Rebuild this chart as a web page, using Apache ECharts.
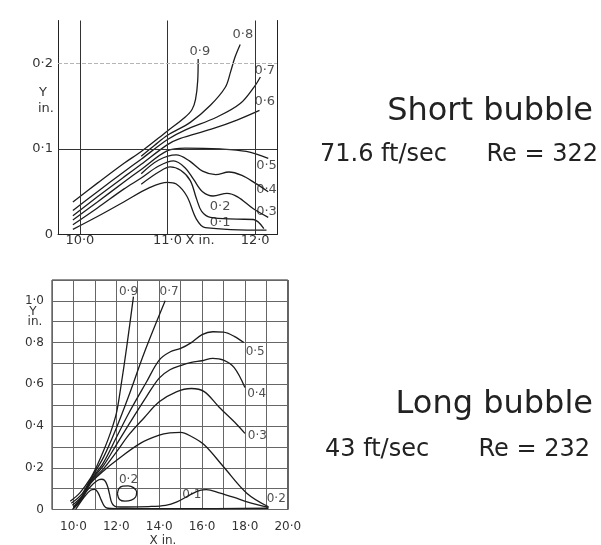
<!DOCTYPE html>
<html><head><meta charset="utf-8">
<script src="https://cdn.jsdelivr.net/npm/echarts@6/dist/echarts.min.js"></script>
<style>html,body{margin:0;padding:0;background:#fff}#c{width:601px;height:545px}</style>
</head><body><div id="c"></div><script>
// ---- Short bubble (71.6 ft/sec): contour lines, [X in., Y in.] ----
const short09 = [[9.92,0.038],[10.2,0.06],[10.5,0.083],[10.7,0.097],[11.0,0.121],[11.2,0.137],[11.28,0.146],[11.32,0.158],[11.345,0.18],[11.35,0.205]];
const short08 = [[10.7,0.0915],[10.85,0.104],[11.0,0.116],[11.26,0.131],[11.49,0.151],[11.66,0.172],[11.72,0.19],[11.77,0.207],[11.83,0.222]];
const short07 = [[9.92,0.028],[10.2,0.05],[10.5,0.073],[10.7,0.088],[11.0,0.111],[11.2,0.122],[11.56,0.137],[11.83,0.153],[12.0,0.174],[12.06,0.184]];
const short06 = [[9.92,0.022],[10.2,0.044],[10.5,0.067],[10.7,0.082],[11.0,0.105],[11.14,0.112],[11.5,0.123],[11.8,0.134],[12.05,0.145]];
const short05 = [[9.92,0.017],[10.2,0.038],[10.5,0.061],[10.7,0.076],[11.0,0.098],[11.2,0.101],[11.6,0.1],[11.9,0.097],[12.15,0.089]];
const short04 = [[10.7,0.071],[10.9,0.087],[11.1,0.093],[11.25,0.086],[11.4,0.074],[11.55,0.07],[11.7,0.073],[11.85,0.069],[12.0,0.06],[12.15,0.05]];
const short03 = [[9.92,0.0114],[10.2,0.031],[10.5,0.053],[10.7,0.066],[10.9,0.08],[11.07,0.086],[11.2,0.078],[11.3,0.064],[11.4,0.05],[11.52,0.045],[11.68,0.048],[11.8,0.044],[11.98,0.03],[12.15,0.02]];
const short02 = [[10.7,0.0588],[10.9,0.073],[11.03,0.079],[11.15,0.075],[11.26,0.063],[11.33,0.042],[11.39,0.027],[11.49,0.02],[11.79,0.018],[11.98,0.0175],[12.1,0.007]];
const short01 = [[9.92,0.006],[10.2,0.021],[10.5,0.038],[10.8,0.055],[11.0,0.061],[11.1,0.059],[11.22,0.045],[11.33,0.018],[11.43,0.008],[12.13,0.005]];
const shortLabelText = ['0·9','0·8','0·7','0·6','0·5','0·4','0·3','0·2','0·1'];
const shortLabelPos = [[11.37,0.214],[11.86,0.233],[12.11,0.192],[12.11,0.155],[12.13,0.081],[12.13,0.052],[12.13,0.027],[11.6,0.032],[11.6,0.014]];
const shortGridX = [10, 11, 12];
const shortGridY = [0.1];
const shortDashedY = [0.2];

// ---- Long bubble (43 ft/sec): contour lines, [X in., Y in.] ----
const long09 = [[9.85,0.04],[10.3,0.08],[10.8,0.15],[11.1,0.21],[11.4,0.28],[11.7,0.36],[12.0,0.46],[12.2,0.58],[12.5,0.79],[12.8,1.02]];
const long07 = [[9.9,0.03],[10.4,0.075],[10.8,0.145],[11.4,0.25],[12.0,0.39],[12.6,0.55],[13.3,0.75],[14.28,1.0]];
const long05 = [[9.95,0.02],[10.4,0.065],[10.8,0.14],[11.4,0.225],[12.0,0.345],[12.6,0.465],[13.4,0.61],[14.0,0.716],[14.5,0.755],[15.0,0.772],[15.5,0.8],[16.0,0.838],[16.5,0.852],[17.0,0.85],[17.5,0.83],[17.95,0.8]];
const long04 = [[10.0,0.012],[10.4,0.06],[10.8,0.135],[11.4,0.21],[12.0,0.31],[12.6,0.41],[13.4,0.54],[14.0,0.63],[14.5,0.67],[15.0,0.69],[15.5,0.705],[16.0,0.713],[16.5,0.724],[17.0,0.716],[17.5,0.68],[18.0,0.585]];
const long03 = [[10.0,0.005],[10.4,0.055],[10.8,0.13],[11.4,0.195],[12.0,0.275],[12.6,0.36],[13.3,0.44],[14.0,0.516],[14.8,0.564],[15.5,0.58],[16.1,0.565],[16.8,0.49],[17.6,0.41],[18.0,0.365]];
const long02 = [[9.95,0.0],[10.4,0.05],[10.8,0.125],[11.4,0.185],[12.0,0.235],[13.1,0.316],[14.0,0.356],[14.5,0.367],[15.0,0.37],[15.5,0.35],[16.1,0.31],[17.0,0.205],[18.1,0.077],[19.1,0.013]];
const long02Loop = [[12.05,0.075],[12.12,0.1],[12.3,0.112],[12.55,0.113],[12.8,0.105],[12.95,0.085],[12.9,0.06],[12.7,0.045],[12.4,0.04],[12.15,0.048],[12.05,0.075]];
const long01 = [[10.0,0.01],[10.4,0.06],[10.8,0.11],[11.1,0.138],[11.3,0.145],[11.45,0.14],[11.58,0.115],[11.68,0.075],[11.8,0.03],[12.0,0.013],[12.5,0.012],[13.5,0.014],[14.3,0.02],[14.8,0.035],[15.4,0.068],[15.9,0.092],[16.2,0.095],[16.8,0.08],[17.5,0.058],[18.1,0.037],[19.1,0.01]];
const long01Inner = [[10.1,0.0],[10.5,0.06],[10.8,0.092],[11.0,0.096],[11.15,0.08],[11.3,0.045],[11.45,0.015],[11.6,0.006],[12.0,0.004],[15.0,0.004],[19.1,0.006]];
const longLabelText = ['0·9','0·7','0·5','0·4','0·3','0·2','0·2','0·1'];
const longLabelPos = [[12.57,1.043],[14.46,1.043],[18.48,0.756],[18.55,0.556],[18.58,0.353],[19.46,0.053],[12.57,0.141],[15.52,0.069]];

const INK = '#1c1c1c';
const FONT = 'DejaVu Sans';
const dot = v => v.toFixed(1).replace('.', '·');
const near = (a, b) => Math.abs(a - b) < 1e-6;

function curve(data, grid) {
  return {
    type: 'line', data, xAxisIndex: grid, yAxisIndex: grid,
    showSymbol: false, smooth: 0.35, silent: true,
    lineStyle: { color: INK, width: 1.3 }
  };
}
function labels(text, pos, grid, size) {
  return {
    type: 'scatter', xAxisIndex: grid, yAxisIndex: grid, silent: true,
    symbolSize: 1, itemStyle: { color: 'rgba(0,0,0,0)' },
    data: pos.map((p, i) => ({ name: text[i], value: p })),
    label: { show: true, position: 'inside', formatter: '{b}', fontSize: size, fontFamily: FONT, color: '#222' }
  };
}

const chart = echarts.init(document.getElementById('c'));
chart.setOption({
  animation: false,
  backgroundColor: '#fff',
  grid: [
    { left: 58, top: 20.5, width: 219, height: 214, show: false },
    { left: 52, top: 280, width: 235.8, height: 229.5, show: true, borderColor: '#222', borderWidth: 1 }
  ],
  xAxis: [
    { gridIndex: 0, type: 'value', min: 9.75, max: 12.25, interval: 0.25,
      axisLine: { show: false }, axisTick: { show: false }, splitLine: { show: false },
      axisLabel: { margin: 0, fontSize: 13, fontFamily: FONT, color: '#333',
        formatter: v => (near(v, Math.round(v)) ? dot(v) : '') } },
    { gridIndex: 1, type: 'value', min: 9, max: 20, interval: 1,
      axisLine: { show: false }, axisTick: { show: false },
      splitLine: { show: true, lineStyle: { color: '#666', width: 1 } },
      axisLabel: { margin: 11, fontSize: 12, fontFamily: FONT, color: '#333',
        formatter: v => (v % 2 === 0 && v >= 10 ? dot(v) : '') } },
    { gridIndex: 0, type: 'value', min: 9.75, max: 12.25, position: 'top',
      axisLine: { show: true, lineStyle: { color: '#222', width: 1 } },
      axisTick: { show: false }, axisLabel: { show: false }, splitLine: { show: false } }
  ],
  yAxis: [
    { gridIndex: 0, type: 'value', min: 0, max: 0.25, interval: 0.05,
      axisLine: { show: true, lineStyle: { color: '#222', width: 1 } },
      axisTick: { show: false }, splitLine: { show: false },
      axisLabel: { margin: 5, fontSize: 13, fontFamily: FONT, color: '#333',
        formatter: v => (near(v, 0) ? '0' : (near(v * 10, Math.round(v * 10)) ? dot(v) : '')) } },
    { gridIndex: 1, type: 'value', min: 0, max: 1.1, interval: 0.1,
      axisLine: { show: false }, axisTick: { show: false },
      splitLine: { show: true, lineStyle: { color: '#666', width: 1 } },
      axisLabel: { margin: 8, fontSize: 12, fontFamily: FONT, color: '#333',
        formatter: v => { if (near(v, 0)) return '0'; const k = Math.round(v * 10); return (k % 2 === 0 && k <= 10) ? dot(v) : ''; } } },
    { gridIndex: 0, type: 'value', min: 0, max: 0.25, position: 'right',
      axisLine: { show: true, lineStyle: { color: '#222', width: 1 } },
      axisTick: { show: false }, axisLabel: { show: false }, splitLine: { show: false } }
  ],
  series: [
    { type: 'line', data: [], xAxisIndex: 0, yAxisIndex: 0, silent: true,
      markLine: { silent: true, symbol: ['none', 'none'], label: { show: false },
        lineStyle: { color: '#333', width: 1, type: 'solid' },
        data: shortGridX.map(x => ({ xAxis: x }))
          .concat(shortGridY.map(y => ({ yAxis: y })))
          .concat(shortDashedY.map(y => ({ yAxis: y, lineStyle: { color: '#b5b5b5', type: 'dashed', width: 1 } }))) } },
    curve(short09, 0), curve(short08, 0), curve(short07, 0), curve(short06, 0), curve(short05, 0),
    curve(short04, 0), curve(short03, 0), curve(short02, 0), curve(short01, 0),
    labels(shortLabelText, shortLabelPos, 0, 13),
    curve(long09, 1), curve(long07, 1), curve(long05, 1), curve(long04, 1), curve(long03, 1),
    curve(long02, 1), curve(long02Loop, 1), curve(long01, 1), curve(long01Inner, 1),
    labels(longLabelText, longLabelPos, 1, 12)
  ],
  graphic: [
    { type: 'text', x: 43, y: 93, style: { text: 'Y', fontSize: 13, fontFamily: FONT, fill: '#333', textAlign: 'center', textVerticalAlign: 'middle' } },
    { type: 'text', x: 46, y: 109, style: { text: 'in.', fontSize: 13, fontFamily: FONT, fill: '#333', textAlign: 'center', textVerticalAlign: 'middle' } },
    { type: 'text', x: 200, y: 241, style: { text: 'X in.', fontSize: 13, fontFamily: FONT, fill: '#333', textAlign: 'center', textVerticalAlign: 'middle' } },
    { type: 'text', x: 33, y: 312, style: { text: 'Y', fontSize: 12, fontFamily: FONT, fill: '#333', textAlign: 'center', textVerticalAlign: 'middle' } },
    { type: 'text', x: 35, y: 322, style: { text: 'in.', fontSize: 12, fontFamily: FONT, fill: '#333', textAlign: 'center', textVerticalAlign: 'middle' } },
    { type: 'text', x: 163, y: 541, style: { text: 'X in.', fontSize: 12, fontFamily: FONT, fill: '#333', textAlign: 'center', textVerticalAlign: 'middle' } },
    { type: 'text', x: 593, y: 112, style: { text: 'Short bubble', fontSize: 32, fontFamily: FONT, fill: '#222', textAlign: 'right', textVerticalAlign: 'middle' } },
    { type: 'text', x: 320, y: 155, style: { text: '71.6 ft/sec', fontSize: 24, fontFamily: FONT, fill: '#222', textAlign: 'left', textVerticalAlign: 'middle' } },
    { type: 'text', x: 598, y: 155, style: { text: 'Re = 322', fontSize: 24, fontFamily: FONT, fill: '#222', textAlign: 'right', textVerticalAlign: 'middle' } },
    { type: 'text', x: 593, y: 405, style: { text: 'Long bubble', fontSize: 32, fontFamily: FONT, fill: '#222', textAlign: 'right', textVerticalAlign: 'middle' } },
    { type: 'text', x: 325, y: 450, style: { text: '43 ft/sec', fontSize: 24, fontFamily: FONT, fill: '#222', textAlign: 'left', textVerticalAlign: 'middle' } },
    { type: 'text', x: 590, y: 450, style: { text: 'Re = 232', fontSize: 24, fontFamily: FONT, fill: '#222', textAlign: 'right', textVerticalAlign: 'middle' } }
  ]
});
</script></body></html>
